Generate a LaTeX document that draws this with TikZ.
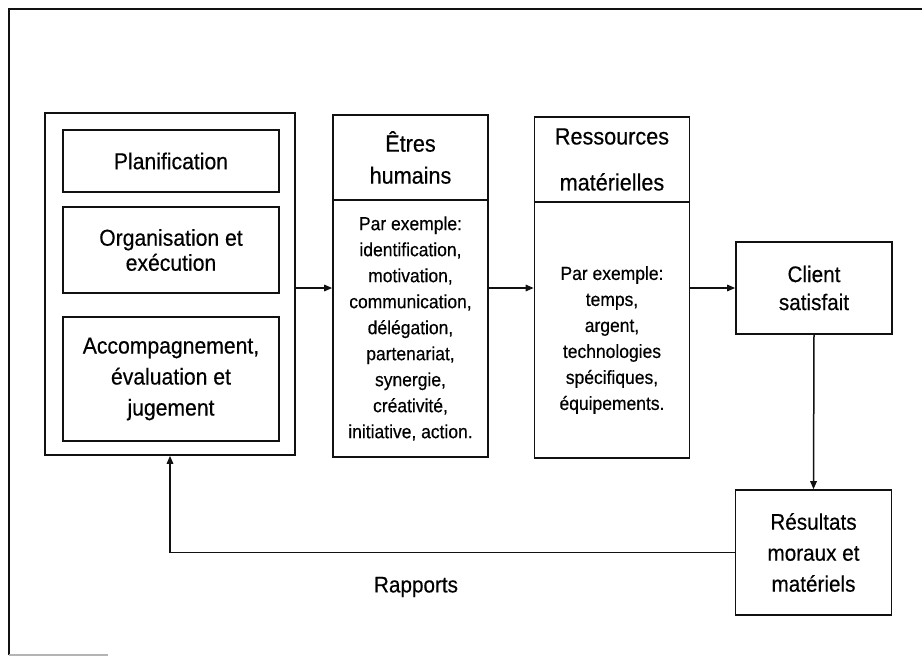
\documentclass[tikz,border=0pt]{standalone}
\usepackage{fontspec}
\setmainfont{Liberation Sans}[FakeStretch=0.92, FakeBold=0.4]
\usetikzlibrary{arrows.meta,positioning,calc}
\definecolor{frameink}{HTML}{111111}
\definecolor{framegrey}{HTML}{B4B4B4}
\tikzset{
  fbox/.style={draw=frameink, line width=1.6pt, inner sep=2pt, align=center},
  stagebox/.style={fbox, minimum width=216pt},
  headbox/.style={fbox, minimum width=155pt, minimum height=85pt},
  bodybox/.style={fbox, minimum width=155pt, minimum height=257pt},
  endbox/.style={fbox, minimum width=156pt},
  stagefont/.style={font=\fontsize{23}{#1}\selectfont},
  bodyfont/.style={font=\fontsize{19}{26}\selectfont, align=center},
  flow/.style={-{Triangle[length=8pt,width=6.5pt]}, line width=1.5pt, draw=frameink},
}

\begin{document}
\begin{tikzpicture}[x=1pt, y=-1pt]
  \useasboundingbox (0,0) rectangle (922,656);
  % page frame, open on the right
  \draw[frameink, line width=2.4pt] (9,655) -- (9,9) -- (922,9);
  \draw[framegrey, line width=2pt] (9,655) -- (108,655);

  % management side
  \node[fbox, minimum width=250pt, minimum height=342pt] (leftBox) at (170,284) {};
  \node[stagebox, stagefont=31, minimum height=62pt] (plan) at (171,161) {Planification};
  \node[stagebox, stagefont=25, minimum height=86pt] (orga) at (171,250)
    {Organisation et\\exécution};
  \node[stagebox, stagefont=31, minimum height=124pt] (accomp) at (171,379)
    {Accompagnement,\\évaluation et\\jugement};

  % resources
  \node[headbox, font=\fontsize{23.5}{32}\selectfont] (etresHead) at (410.5,157.5)
    {Êtres\\humains};
  \node[bodybox, bodyfont] (etresBody) at (410.5,328.5)
    {Par exemple:\\identification,\\motivation,\\communication,\\délégation,\\partenariat,\\synergie,\\créativité,\\initiative, action.};
  \node[headbox, font=\fontsize{23.5}{46}\selectfont] (ressHead) at (612,159.5)
    {Ressources\\matérielles};
  \node[bodybox, minimum height=256pt] (ressBody) at (612,330) {};
  \node[bodyfont] (ressText) at ([yshift=-10pt]ressBody.center)
    {Par exemple:\\temps,\\argent,\\technologies\\spécifiques,\\équipements.};

  % outcome
  \node[endbox, font=\fontsize{22.5}{28}\selectfont, minimum height=92pt] (client) at (814,288)
    {Client\\satisfait};
  \node[endbox, font=\fontsize{22.5}{31}\selectfont, minimum height=125pt] (result) at (813.5,552.5)
    {Résultats\\moraux et\\matériels};

  \draw[flow] (leftBox.east |- client.west) -- (etresBody.west |- client.west);
  \draw[flow] (etresBody.east |- client.west) -- (ressBody.west |- client.west);
  \draw[flow] (ressBody.east |- client.west) -- (client.west);
  \draw[flow] (client.south) -- (result.north);
  \draw[flow] (result.west) -| (leftBox.south);
  \node[font=\fontsize{22.5}{25}\selectfont] (rapports) at (416,587) {Rapports};
\end{tikzpicture}
\end{document}
